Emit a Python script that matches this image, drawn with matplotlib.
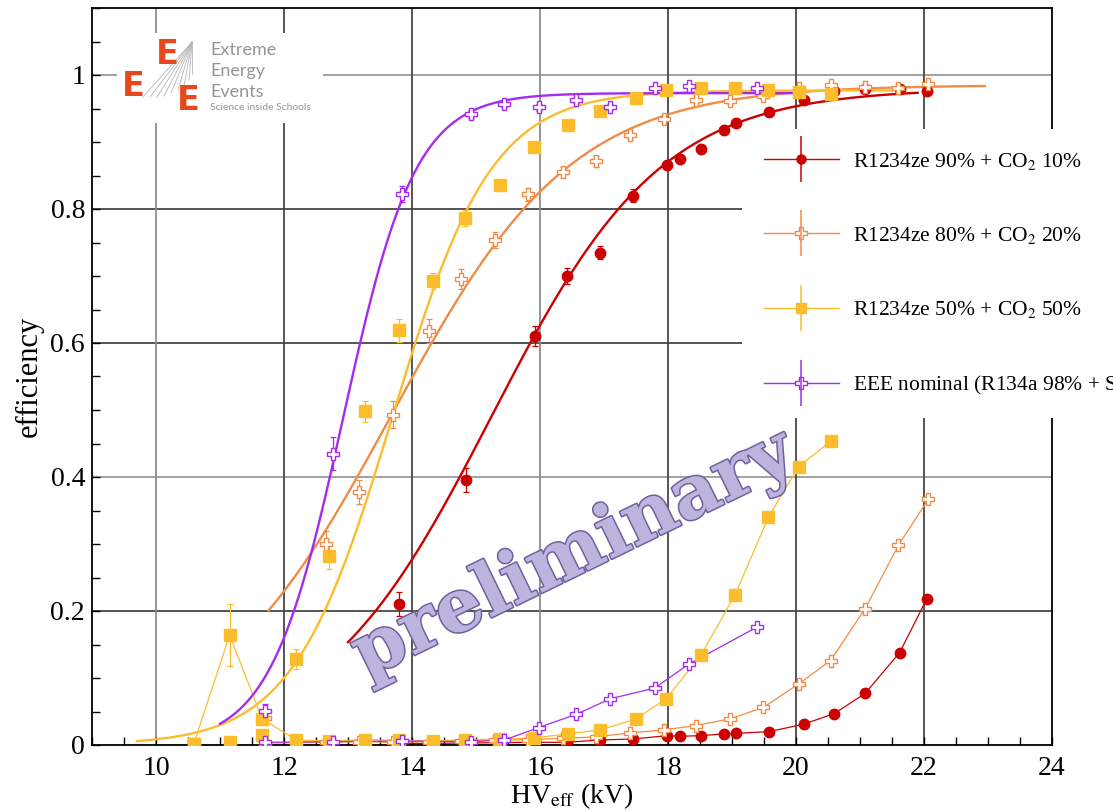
import numpy as np
import matplotlib.pyplot as plt
import matplotlib.patheffects as pe
from matplotlib.lines import Line2D
from matplotlib.patches import Rectangle
from matplotlib.legend_handler import HandlerTuple
from matplotlib.ticker import MultipleLocator

plt.rcParams['font.family'] = ['Liberation Serif', 'DejaVu Serif']
plt.rcParams['mathtext.fontset'] = 'stix'

# R1234ze 90% + CO2 10%
hv_90 = [13.79, 14.85, 15.92, 16.42, 16.94, 17.46, 17.99, 18.19, 18.52, 18.88,
         19.07, 19.58, 20.12, 20.6, 21.08, 21.62, 22.04]
eff_90 = [0.211, 0.396, 0.61, 0.70, 0.735, 0.82, 0.866, 0.874, 0.89, 0.918,
          0.928, 0.945, 0.962, 0.976, 0.979, 0.979, 0.976]
err_90 = [0.018, 0.018, 0.015, 0.012, 0.01, 0.01, 0.006, 0.006, 0.005, 0.005,
          0.004, 0.004, 0.004, 0.003, 0.003, 0.003, 0.003]
str_90 = [0.002, 0.003, 0.004, 0.004, 0.0075, 0.009, 0.014, 0.013, 0.014, 0.0166,
          0.0174, 0.02, 0.031, 0.047, 0.077, 0.138, 0.2175]

# R1234ze 80% + CO2 20%
hv_80 = [11.7, 12.65, 13.17, 13.71, 14.26, 14.77, 15.3, 15.82, 16.36, 16.87,
         17.4, 17.93, 18.43, 18.97, 19.49, 20.04, 20.54, 21.08, 21.6, 22.07]
eff_80 = [0.04, 0.30, 0.378, 0.493, 0.618, 0.695, 0.754, 0.822, 0.855, 0.871,
          0.91, 0.935, 0.962, 0.9605, 0.968, 0.98, 0.985, 0.982, 0.98, 0.987]
err_80 = [0.01, 0.02, 0.018, 0.02, 0.018, 0.015, 0.012, 0.01, 0.008, 0.008,
          0.006, 0.005, 0.004, 0.004, 0.004, 0.003, 0.003, 0.003, 0.003, 0.003]
str_80 = [0.003, 0.004, 0.005, 0.004, 0.005, 0.006, 0.007, 0.008, 0.01, 0.012,
          0.018, 0.0225, 0.029, 0.039, 0.056, 0.091, 0.126, 0.2035, 0.298, 0.367]

# R1234ze 50% + CO2 50%
hv_50 = [10.59, 11.15, 11.66, 12.19, 12.71, 13.27, 13.8, 14.33, 14.83, 15.38,
         15.9, 16.43, 16.94, 17.5, 17.97, 18.52, 19.05, 19.57, 20.04, 20.54]
eff_50 = [0.0015, 0.005, 0.0155, 0.129, 0.282, 0.498, 0.619, 0.6925, 0.787, 0.836,
          0.893, 0.926, 0.946, 0.9655, 0.978, 0.98, 0.98, 0.978, 0.9745, 0.972]
err_50 = [0.002, 0.003, 0.005, 0.015, 0.02, 0.016, 0.017, 0.012, 0.012, 0.008,
          0.006, 0.005, 0.004, 0.004, 0.003, 0.003, 0.003, 0.003, 0.003, 0.003]
str_50 = [0.0015, 0.164, 0.039, 0.0075, 0.006, 0.008, 0.007, 0.006, 0.008, 0.009,
          0.0105, 0.0165, 0.0225, 0.039, 0.069, 0.135, 0.2245, 0.34, 0.4155, 0.453]
str_err_50 = [0, 0.046, 0, 0, 0, 0, 0, 0, 0, 0,
              0, 0, 0, 0, 0, 0, 0, 0, 0, 0]

# EEE nominal (R134a 98% + SF6 2%)
hv_nom = [11.71, 12.77, 13.84, 14.92, 15.44, 15.98, 16.57, 17.1, 17.79, 18.33, 19.39]
eff_nom = [0.051, 0.435, 0.822, 0.942, 0.957, 0.952, 0.962, 0.952, 0.98, 0.983, 0.98]
err_nom = [0.01, 0.025, 0.012, 0.006, 0.005, 0.005, 0.004, 0.004, 0.003, 0.003, 0.003]
str_nom = [0.004, 0.005, 0.006, 0.005, 0.0075, 0.026, 0.046, 0.069, 0.085, 0.121, 0.176]

# sigmoid fits: plateau, HV at 50%, width, drawn range
fit_plateau = [0.98, 0.985, 0.977, 0.973]
fit_hv50 = [15.24, 13.68, 13.69, 12.92]
fit_width = [1.33, 1.41, 0.778, 0.566]
fit_lo = [13.0, 11.76, 9.7, 11.0]
fit_hi = [21.9, 22.95, 21.5, 20.1]

labels = ['R1234ze 90% + CO$_2$ 10%', 'R1234ze 80% + CO$_2$ 20%',
          'R1234ze 50% + CO$_2$ 50%', 'EEE nominal (R134a 98% + SF$_6$ 2%)']
colors = ['#cc0000', '#f08c45', '#fbbd2c', '#a52bef']
markers = ['o', 'P', 's', 'P']
msizes = [7.5, 9, 8.5, 9]
mfaces = ['#cc0000', 'white', '#fbbd2c', 'white']

series = [(hv_90, eff_90, err_90, str_90),
          (hv_80, eff_80, err_80, str_80),
          (hv_50, eff_50, err_50, str_50),
          (hv_nom, eff_nom, err_nom, str_nom)]

W, H = 1113, 811
fig = plt.figure(figsize=(W / 100, H / 100), dpi=100)
ax = fig.add_axes([92 / W, 66 / H, 960 / W, 737 / H])
ax.set_xlim(9, 24)
ax.set_ylim(0, 1.1)

# grid (grace style, a few lines lighter)
for yv in [0.2, 0.4, 0.6, 0.8, 1.0]:
    c = '#9a9a9a' if yv in (0.4, 1.0) else '#474747'
    ax.axhline(yv, color=c, lw=1.3, zorder=0.8)
for xv in [10, 12, 14, 16, 18, 20, 22]:
    c = '#8c8c8c' if xv in (10, 16) else '#474747'
    ax.axvline(xv, color=c, lw=1.3, zorder=0.8)

# white box behind the logo
ax.add_patch(Rectangle((117 / W, 1 - 123 / H), 206 / W, 90 / H, transform=fig.transFigure,
                       facecolor='white', edgecolor='none', zorder=1))

for i, (hv, eff, err, stre) in enumerate(series):
    c = colors[i]
    xf = np.linspace(fit_lo[i], fit_hi[i], 300)
    yf = fit_plateau[i] / (1 + np.exp(-(xf - fit_hv50[i]) / fit_width[i]))
    ax.plot(xf, yf, color=c, lw=1.7, zorder=3)
    ax.plot(hv, stre, color=c, lw=0.9, zorder=3)
    ax.errorbar(hv, eff, yerr=err, fmt='none', ecolor=c, elinewidth=0.9,
                capsize=2.2, capthick=0.9, zorder=3.5)
    ax.plot(hv, eff, linestyle='none', marker=markers[i], ms=msizes[i],
            mfc=mfaces[i], mec=c, mew=1.0, zorder=4)
    ax.plot(hv, stre, linestyle='none', marker=markers[i], ms=msizes[i],
            mfc=mfaces[i], mec=c, mew=1.0, zorder=4)

ax.errorbar(hv_50, str_50, yerr=str_err_50, fmt='none', ecolor=colors[2],
            elinewidth=0.9, capsize=2.2, capthick=0.9, zorder=3.5)

# axes cosmetics
ax.set_xticks(np.arange(10, 25, 2))
ax.set_yticks([0, 0.2, 0.4, 0.6, 0.8, 1.0])
ax.set_yticklabels(['0', '0.2', '0.4', '0.6', '0.8', '1'])
ax.xaxis.set_minor_locator(MultipleLocator(0.5))
ax.yaxis.set_minor_locator(MultipleLocator(0.05))
ax.tick_params(which='both', direction='in', length=6, width=1, labelsize=20,
               top=False, right=False)
ax.tick_params(axis='x', pad=8)
ax.tick_params(axis='y', pad=5)
for s in ax.spines.values():
    s.set_linewidth(1.3)
ax.set_xlabel('HV$_{\\mathrm{eff}}$ (kV)', fontsize=20, labelpad=0)
ax.set_ylabel('efficiency', fontsize=22, labelpad=5)

# legend
handles = []
for i in range(4):
    h1 = Line2D([], [], color=colors[i], lw=1, marker=markers[i], ms=msizes[i] - 1,
                mfc=mfaces[i], mec=colors[i], mew=1.0)
    h2 = Line2D([], [], color=colors[i], marker='|', ms=33, mew=1.1, linestyle='none')
    handles.append((h1, h2))
leg = ax.legend(handles, labels, handler_map={tuple: HandlerTuple()},
                loc='upper left', bbox_to_anchor=(742 / W, 1 - 129 / H),
                bbox_transform=fig.transFigure, frameon=True, fancybox=False,
                framealpha=1, facecolor='white', edgecolor='none', fontsize=15.5,
                handlelength=3.5, handletextpad=0.65, labelspacing=2.48,
                borderpad=1.0, borderaxespad=0)
leg.set_zorder(6)

# "preliminary" watermark
ax.text(0.502, 0.258, 'preliminary', transform=ax.transAxes, fontsize=53,
        family='DejaVu Serif', fontweight='bold', color='#bdb4de', rotation=26,
        ha='center', va='center', zorder=5,
        path_effects=[pe.Stroke(linewidth=2.2, foreground='#6f619f'), pe.Normal()])

# EEE logo
def fpos(x, y):
    return x / W, 1 - y / H

apex = fpos(192, 42)
for ex, ey in [(143, 97), (150, 97), (157, 97), (164, 96), (171, 93),
               (178, 90), (184, 86), (189, 80), (192, 74)]:
    e = fpos(ex, ey)
    fig.add_artist(Line2D([apex[0], e[0]], [apex[1], e[1]], color='#b5b5b5',
                          lw=0.6, transform=fig.transFigure, zorder=6))
for ex, ey in [(167, 55), (133, 86), (188, 100)]:
    fig.text(*fpos(ex, ey), 'E', fontsize=24, color='#e8461d', family='DejaVu Sans',
             fontweight='bold', ha='center', va='center', zorder=7)
for txt, ty in [('Extreme', 50), ('Energy', 71), ('Events', 92)]:
    fig.text(*fpos(210, ty), txt, fontsize=13, color='#959595', family='Lato',
             ha='left', va='center', zorder=7)
fig.text(*fpos(210, 108), 'Science inside Schools', fontsize=7.5, color='#959595',
         family='Lato', ha='left', va='center', zorder=7)

fig.savefig('out.png', dpi=100)
